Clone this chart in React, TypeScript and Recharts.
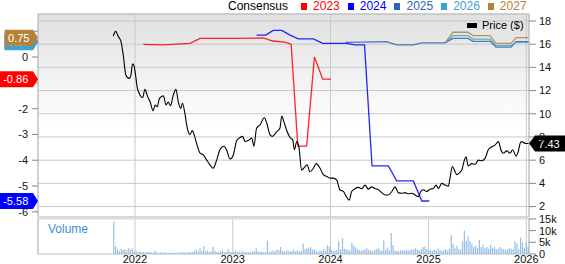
import React from 'react';
import {
  ComposedChart, Line, Bar, XAxis, YAxis, CartesianGrid,
  ReferenceDot, ReferenceArea, ReferenceLine,
} from 'recharts';

// weekly-ish closing price ($)
const price: [string, number][] = [
  ['2021-10-12', 16.7], ['2021-10-21', 17.1], ['2021-10-31', 16.65], ['2021-11-09', 16.3],
  ['2021-11-18', 15.1], ['2021-11-28', 13.35], ['2021-12-10', 13.05], ['2021-12-17', 13.35],
  ['2021-12-23', 14.3], ['2021-12-29', 14.1], ['2022-01-10', 12.2], ['2022-01-20', 11.6],
  ['2022-01-30', 11.4], ['2022-02-07', 12.1], ['2022-02-17', 11.5], ['2022-02-26', 11.05],
  ['2022-03-10', 10.25], ['2022-03-17', 10.75], ['2022-03-25', 10.6], ['2022-04-02', 11.3],
  ['2022-04-17', 11.55], ['2022-04-27', 10.75], ['2022-05-05', 11.0], ['2022-05-14', 10.7],
  ['2022-05-24', 11.6], ['2022-06-03', 12.1], ['2022-06-12', 11.0], ['2022-06-21', 10.45],
  ['2022-06-27', 10.9], ['2022-07-07', 9.95], ['2022-07-12', 9.2], ['2022-07-19', 8.45],
  ['2022-07-25', 8.2], ['2022-08-03', 8.55], ['2022-08-10', 8.2], ['2022-08-19', 7.45],
  ['2022-09-01', 6.6], ['2022-09-13', 6.45], ['2022-09-26', 6.0], ['2022-10-08', 5.6],
  ['2022-10-20', 5.3], ['2022-11-02', 6.0], ['2022-11-14', 6.9], ['2022-11-29', 7.2],
  ['2022-12-09', 6.9], ['2022-12-22', 6.1], ['2023-01-03', 6.45], ['2023-01-16', 7.7],
  ['2023-01-28', 7.95], ['2023-02-07', 8.05], ['2023-02-16', 7.6], ['2023-02-28', 7.7],
  ['2023-03-13', 7.9], ['2023-03-21', 7.2], ['2023-03-31', 8.75], ['2023-04-13', 9.05],
  ['2023-04-29', 9.65], ['2023-05-08', 9.2], ['2023-05-20', 8.2], ['2023-05-29', 8.05],
  ['2023-06-14', 8.45], ['2023-06-26', 8.75], ['2023-07-03', 9.8], ['2023-07-11', 9.3],
  ['2023-07-21', 8.6], ['2023-08-03', 7.95], ['2023-08-13', 7.75], ['2023-08-19', 6.9],
  ['2023-08-28', 7.6], ['2023-09-05', 7.15], ['2023-09-15', 5.15], ['2023-09-28', 5.45],
  ['2023-10-06', 5.6], ['2023-10-16', 5.0], ['2023-10-29', 5.3], ['2023-11-08', 5.7],
  ['2023-11-23', 5.3], ['2023-12-05', 4.75], ['2023-12-18', 4.6], ['2023-12-30', 4.45],
  ['2024-01-11', 4.45], ['2024-01-24', 4.3], ['2024-02-05', 3.45], ['2024-02-18', 3.3],
  ['2024-02-28', 2.9], ['2024-03-11', 2.55], ['2024-03-20', 3.3], ['2024-04-02', 3.55],
  ['2024-04-14', 3.65], ['2024-04-27', 3.55], ['2024-05-09', 3.85], ['2024-05-21', 3.5],
  ['2024-06-03', 3.7], ['2024-06-15', 3.55], ['2024-06-28', 3.45], ['2024-07-10', 3.2],
  ['2024-07-23', 3.0], ['2024-08-04', 3.0], ['2024-08-17', 3.3], ['2024-08-29', 3.7],
  ['2024-09-10', 3.2], ['2024-09-23', 3.15], ['2024-10-05', 3.2], ['2024-10-18', 3.1],
  ['2024-10-30', 3.15], ['2024-11-12', 3.0], ['2024-11-24', 2.85], ['2024-12-03', 3.3],
  ['2024-12-13', 3.45], ['2024-12-25', 3.3], ['2025-01-07', 3.5], ['2025-01-19', 3.55],
  ['2025-01-29', 3.85], ['2025-02-07', 3.55], ['2025-02-19', 4.0], ['2025-03-04', 3.85],
  ['2025-03-16', 3.75], ['2025-03-22', 4.45], ['2025-03-31', 5.45], ['2025-04-10', 5.0],
  ['2025-04-16', 4.75], ['2025-04-26', 4.9], ['2025-05-05', 5.15], ['2025-05-13', 5.85],
  ['2025-05-21', 6.3], ['2025-05-29', 5.5], ['2025-06-11', 5.7], ['2025-06-24', 5.65],
  ['2025-07-06', 6.0], ['2025-07-19', 5.95], ['2025-07-31', 6.15], ['2025-08-12', 6.9],
  ['2025-08-25', 7.15], ['2025-09-06', 7.3], ['2025-09-19', 7.6], ['2025-09-28', 6.9],
  ['2025-10-07', 6.6], ['2025-10-20', 6.8], ['2025-11-01', 6.6], ['2025-11-11', 6.9],
  ['2025-11-24', 6.35], ['2025-12-02', 6.75], ['2025-12-09', 7.45], ['2025-12-15', 7.6],
  ['2025-12-27', 7.45], ['2026-01-09', 7.43],
];

// consensus EPS estimates per fiscal year
const eps2023: [string, number][] = [
  ['2022-02-01', 0.49], ['2022-04-16', 0.47], ['2022-07-25', 0.53], ['2022-09-01', 0.72],
  ['2023-01-02', 0.72], ['2023-04-24', 0.74], ['2023-05-31', 0.62], ['2023-07-15', 0.58],
  ['2023-08-07', 0.5], ['2023-09-01', -3.45], ['2023-10-04', -3.45], ['2023-11-02', 0.0],
  ['2023-12-03', -0.86], ['2024-01-03', -0.86],
];
const eps2024: [string, number][] = [
  ['2023-03-31', 0.85], ['2023-05-04', 0.85], ['2023-06-01', 1.03], ['2023-07-03', 1.03],
  ['2023-08-03', 0.85], ['2023-09-03', 0.7], ['2023-10-29', 0.7], ['2023-12-03', 0.53],
  ['2024-03-01', 0.53], ['2024-04-01', 0.47], ['2024-05-07', 0.47], ['2024-06-04', -4.22],
  ['2024-08-04', -4.22], ['2024-09-04', -4.8], ['2024-11-05', -4.8], ['2024-12-07', -5.58],
  ['2025-01-04', -5.58],
];
const eps2025: [string, number][] = [
  ['2024-02-25', 0.57], ['2024-04-20', 0.58], ['2024-07-28', 0.6], ['2024-09-04', 0.47],
  ['2024-11-05', 0.47], ['2024-12-07', 0.55], ['2025-03-04', 0.55], ['2025-04-02', 0.72],
  ['2025-05-28', 0.72], ['2025-06-16', 0.61], ['2025-08-19', 0.61], ['2025-09-10', 0.38],
  ['2025-11-05', 0.38], ['2025-11-24', 0.6], ['2026-01-09', 0.6],
];
const eps2026: [string, number][] = [
  ['2025-03-07', 0.56], ['2025-04-02', 0.83], ['2025-05-28', 0.83], ['2025-06-16', 0.69],
  ['2025-08-19', 0.69], ['2025-09-10', 0.44], ['2025-11-05', 0.44], ['2025-11-24', 0.57],
  ['2026-01-09', 0.57],
];
const eps2027: [string, number][] = [
  ['2025-03-07', 0.6], ['2025-04-02', 0.96], ['2025-05-28', 0.96], ['2025-06-16', 0.83],
  ['2025-08-19', 0.83], ['2025-09-10', 0.53], ['2025-11-05', 0.53], ['2025-11-24', 0.75],
  ['2026-01-09', 0.75],
];

// weekly volume in thousands, first week starting 2021-10-15
const volumeStart = '2021-10-15';
const weeklyVolume = [
  13.8, 3.3, 2.0, 1.3, 2.2, 1.7, 1.9, 1.4, 2.5, 1.8, 2.4, 1.0,
  1.2, 0.8, 1.1, 0.7, 0.9, 0.6, 0.8, 1.0, 0.7, 0.6,
  1.5, 0.6, 0.5, 0.7, 0.5, 0.6, 0.5, 0.4, 0.6, 0.5,
  0.5, 0.4, 0.6, 0.5, 0.7, 0.8, 0.6, 0.5, 0.9, 0.7,
  0.8, 1.2, 2.0, 1.1, 2.5, 1.3, 3.4, 1.2, 1.5, 1.0,
  1.1, 3.0, 1.4, 0.9, 1.0, 1.2, 1.5, 0.8, 0.9, 2.0, 1.0, 0.8,
  0.9, 1.5, 0.8, 1.0, 0.7, 1.2, 0.8, 0.9, 0.7, 0.8,
  1.0, 1.3, 2.5, 1.2, 0.9, 1.1, 0.8, 1.0, 5.7, 0.9,
  1.2, 1.5, 1.1, 2.0, 1.6, 3.0, 1.4, 1.0, 1.2, 1.5,
  1.1, 1.3, 2.0, 1.2, 1.6, 1.0, 1.4, 4.5, 2.0, 2.7,
  2.5, 3.0, 1.8, 2.0, 1.4, 1.0, 1.6, 1.3, 2.2, 1.5, 3.8, 3.0,
  1.8, 1.5, 1.4, 1.7, 5.5, 2.0, 6.8, 2.2, 2.0, 1.8,
  1.5, 4.8, 3.6, 2.8, 2.0, 1.6, 1.4, 1.7, 2.0, 2.5,
  1.8, 1.5, 1.2, 1.6, 2.0, 2.5, 1.7, 1.5, 5.8, 1.8,
  2.8, 1.6, 9.0, 3.8, 1.5, 1.4, 1.2, 1.5, 1.6, 1.4,
  1.8, 1.5, 1.6, 1.9, 2.0, 2.5, 1.8, 1.6, 2.0, 3.0, 3.2, 2.0, 1.8,
  1.6, 1.4, 1.8, 1.5, 2.5, 1.6, 1.3, 1.8, 2.0, 1.5,
  2.2, 8.0, 4.5, 2.5, 3.5, 2.0, 1.8, 5.5, 10.0, 5.5,
  7.5, 5.5, 4.5, 3.0, 3.5, 2.5, 6.0, 3.0, 4.0, 2.5,
  3.0, 2.2, 4.0, 2.5, 3.0, 2.0, 2.2, 3.0, 2.5, 2.0,
  1.8, 2.0, 2.5, 2.2, 2.0, 5.5, 4.5, 2.0, 7.0, 5.0, 2.5, 4.8, 3.0,
];

const yearStarts = ['2022-01-01', '2023-01-01', '2024-01-01', '2025-01-01', '2026-01-01'];
const epsTicks = [1, 0, -1, -2, -3, -4, -5, -6];
const priceTicks = [2, 4, 6, 8, 10, 12, 14, 16, 18];
const volumeTicks = [0, 5, 10, 15];

const T0 = Date.parse('2021-01-04');
const T1 = Date.parse('2026-01-11');
const EPS_MIN = -6.2;
const EPS_MAX = 1.667;
const PRICE_MIN = 1.1;
const PRICE_MAX = 18.6;
const VOL_MAX = 15.4;

const WEEK = 7 * 24 * 3600 * 1000;
const toPoints = (rows: [string, number][]) => rows.map(([d, v]) => ({ t: Date.parse(d), v }));
const yearTicks = yearStarts.map((d) => Date.parse(d));
const volumeRows = weeklyVolume.map((v, i) => ({ t: Date.parse(volumeStart) + i * WEEK, v }));

const consensus = [
  { name: '2023', color: '#ff0000', rows: eps2023 },
  { name: '2024', color: '#0000ff', rows: eps2024 },
  { name: '2025', color: '#2a66b1', rows: eps2025 },
  { name: '2026', color: '#3da2d4', rows: eps2026 },
  { name: '2027', color: '#b5823a', rows: eps2027 },
];

const GRID = '#c9c9c9';
const FRAME = '#bdbdbd';
const W = 565;

function Tag(props: any) {
  const { cx, cy, color, text, side } = props;
  const h = 16;
  const tw = text.length * 6.1 + 4;
  if (side === 'left') {
    const body = cx - 5;
    const left = body - tw;
    const pts = `${left},${cy - h / 2} ${body},${cy - h / 2} ${cx},${cy} ${body},${cy + h / 2} ${left},${cy + h / 2}`;
    return (
      <g>
        <polygon points={pts} fill={color} />
        <text x={(left + body) / 2} y={cy + 4} textAnchor="middle" fill="#fff" fontSize={11}>{text}</text>
      </g>
    );
  }
  const body = cx + 6;
  const right = W;
  const pts = `${cx},${cy} ${body},${cy - h / 2} ${right},${cy - h / 2} ${right},${cy + h / 2} ${body},${cy + h / 2}`;
  return (
    <g>
      <polygon points={pts} fill="#000" />
      <text x={(body + right) / 2 - 1} y={cy + 4} textAnchor="middle" fill="#fff" fontSize={11}>{text}</text>
    </g>
  );
}

const last = (rows: [string, number][]) => rows[rows.length - 1][1];
const fmtEps = (v: number) => v.toFixed(2);
// labels at 1 and -1 sit under the last-value tags
const epsLabel = (v: number) => (v === 1 || v === -1 ? '' : String(v));

export default function App() {
  const tickStyle = { fontSize: 11, fill: '#111' };
  return (
    <div style={{ position: 'absolute', left: 0, top: 0, width: W, height: 264, fontFamily: '"Liberation Sans", Arial, sans-serif', background: '#fff' }}>
      <style>{'.recharts-surface { overflow: visible; }'}</style>
      <ComposedChart width={W} height={218} margin={{ top: 14, right: 0, bottom: 1, left: 0 }}>
        <defs>
          <linearGradient id="plotBg" x1="0" y1="0" x2="0" y2="1">
            <stop offset="0%" stopColor="#e0e0e0" />
            <stop offset="55%" stopColor="#ffffff" />
          </linearGradient>
        </defs>
        <XAxis dataKey="t" type="number" domain={[T0, T1]} ticks={yearTicks} hide allowDataOverflow />
        <YAxis
          yAxisId="eps" orientation="left" width={38} domain={[EPS_MIN, EPS_MAX]} ticks={epsTicks}
          allowDataOverflow axisLine={false} tickSize={6} tickMargin={4}
          tickLine={{ stroke: '#888' }} tick={tickStyle} interval={0} tickFormatter={epsLabel}
        />
        <YAxis
          yAxisId="price" orientation="right" width={36} domain={[PRICE_MIN, PRICE_MAX]} ticks={priceTicks}
          allowDataOverflow axisLine={false} tickSize={7} tickMargin={3}
          tickLine={{ stroke: '#888' }} tick={tickStyle} interval={0}
        />
        <CartesianGrid yAxisId="price" stroke={GRID} fill="url(#plotBg)" fillOpacity={1} />
        <ReferenceArea yAxisId="price" x1={T0} x2={T1} y1={PRICE_MIN} y2={PRICE_MAX} fill="none" stroke={FRAME} />
        {consensus.map((c) => (
          <Line
            key={c.name} yAxisId="eps" data={toPoints(c.rows)} dataKey="v" type="linear"
            stroke={c.color} strokeWidth={1.3} strokeOpacity={0.85} dot={false} isAnimationActive={false}
          />
        ))}
        <Line
          yAxisId="price" data={toPoints(price)} dataKey="v" type="monotone"
          stroke="#000" strokeWidth={1.1} dot={false} isAnimationActive={false}
        />
        {consensus.map((c) => (
          <ReferenceDot
            key={'tag' + c.name} yAxisId="eps" x={T0} y={last(c.rows)}
            shape={(p: any) => <Tag cx={p.cx} cy={p.cy} color={c.color} text={fmtEps(last(c.rows))} side="left" />}
          />
        ))}
        <ReferenceDot
          yAxisId="price" x={T1} y={last(price)}
          shape={(p: any) => <Tag cx={p.cx} cy={p.cy} text={last(price).toFixed(2)} side="right" />}
        />
      </ComposedChart>

      <div style={{ position: 'absolute', top: 217 }}>
        <ComposedChart width={W} height={47} data={volumeRows} margin={{ top: 1, right: 0, bottom: 0, left: 0 }}>
          <XAxis
            dataKey="t" type="number" domain={[T0, T1]} ticks={yearTicks} allowDataOverflow
            height={10} tickLine={false} axisLine={false} tickSize={0} tickMargin={1}
            tick={tickStyle} tickFormatter={(t: number) => String(new Date(t).getUTCFullYear())}
          />
          <YAxis yAxisId="pad" orientation="left" width={38} tick={false} axisLine={false} tickLine={false} />
          <YAxis
            yAxisId="vol" orientation="right" width={36} domain={[0, VOL_MAX]} ticks={volumeTicks}
            allowDataOverflow axisLine={false} tickSize={7} tickMargin={3} interval={0}
            tickLine={{ stroke: '#888' }} tick={tickStyle}
            tickFormatter={(v: number) => (v === 0 ? '0' : `${v}k`)}
          />
          <CartesianGrid yAxisId="vol" horizontal={false} stroke={GRID} />
          <Bar yAxisId="vol" dataKey="v" fill="#94bfe6" barSize={1.2} isAnimationActive={false} />
          <ReferenceArea yAxisId="vol" x1={T0} x2={T1} y1={0} y2={VOL_MAX} fill="none" stroke={FRAME} />
          <ReferenceLine yAxisId="vol" y={VOL_MAX} stroke="#dcdcdc" strokeWidth={3} />
        </ComposedChart>
      </div>

      <div style={{ position: 'absolute', left: 228, top: 0, height: 12, lineHeight: '12px', display: 'flex', alignItems: 'center', fontSize: 12, whiteSpace: 'nowrap' }}>
        <span style={{ color: '#000' }}>Consensus</span>
        {consensus.map((c, i) => (
          <span key={c.name} style={{ display: 'flex', alignItems: 'center', marginLeft: i === 0 ? 13 : 8 }}>
            <span style={{ width: 6, height: 7, background: c.color, marginRight: 6 }} />
            <span style={{ color: c.color }}>{c.name}</span>
          </span>
        ))}
      </div>

      <div style={{ position: 'absolute', left: 467, top: 19, height: 12, lineHeight: '12px', display: 'flex', alignItems: 'center', fontSize: 11 }}>
        <span style={{ width: 10, height: 5, background: '#000', marginRight: 5 }} />
        <span>Price ($)</span>
      </div>

      <div style={{ position: 'absolute', left: 48, top: 223, lineHeight: '12px', fontSize: 12, color: '#3d8fd1' }}>Volume</div>
    </div>
  );
}
